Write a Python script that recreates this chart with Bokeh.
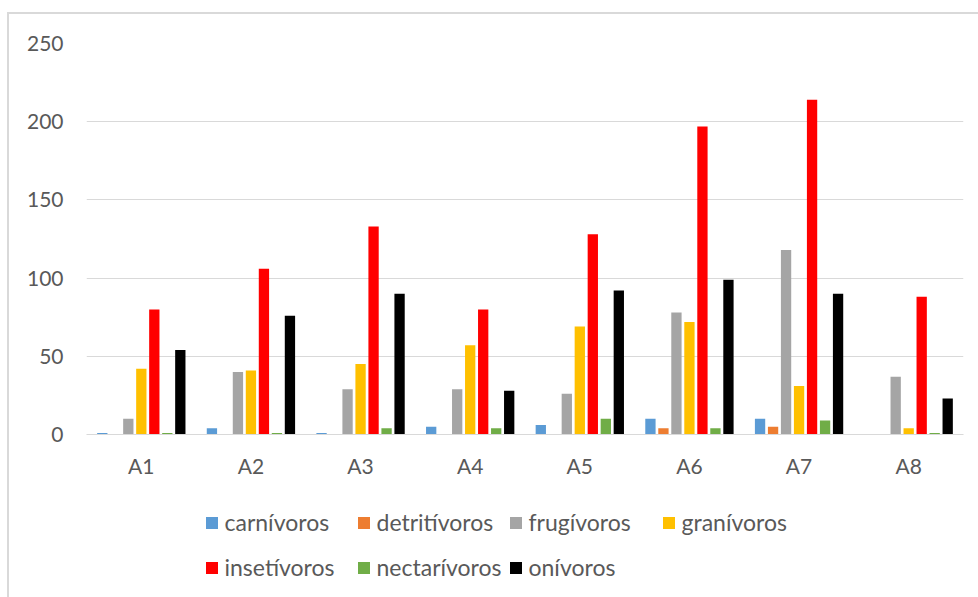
import numpy as np
from bokeh.plotting import figure
from bokeh.layouts import column
from bokeh.models import (ColumnDataSource, FactorRange, Range1d, FixedTicker,
                          Legend, LegendItem)
from bokeh.transform import dodge
from bokeh.embed import file_html
from bokeh.resources import INLINE

categories = ["A1", "A2", "A3", "A4", "A5", "A6", "A7", "A8"]
series_names = ["carnívoros", "detritívoros", "frugívoros", "granívoros",
                "insetívoros", "nectarívoros", "onívoros"]
carnivoros = [1, 4, 1, 5, 6, 10, 10, 0]
detritivoros = [0, 0, 0, 0, 0, 4, 5, 0]
frugivoros = [10, 40, 29, 29, 26, 78, 118, 37]
granivoros = [42, 41, 45, 57, 69, 72, 31, 4]
insetivoros = [80, 106, 133, 80, 128, 197, 214, 88]
nectarivoros = [1, 1, 4, 4, 10, 4, 9, 1]
onivoros = [54, 76, 90, 28, 92, 99, 90, 23]
y_ticks = [0, 50, 100, 150, 200, 250]

colors = ["#5B9BD5", "#ED7D31", "#A5A5A5", "#FFC000", "#FF0000", "#70AD47", "#000000"]
values = [carnivoros, detritivoros, frugivoros, granivoros, insetivoros, nectarivoros, onivoros]
keys = ["s%d" % i for i in range(7)]

data = {"cat": categories}
for k, v in zip(keys, values):
    data[k] = v
source = ColumnDataSource(data)

FONT = "Lato"
TXT = "#595959"

# ---- main chart (canvas starts at window (9, 14) because of the column's CSS margin + border)
p = figure(x_range=FactorRange(*categories, range_padding=0),
           y_range=Range1d(0, 250),
           width=969, height=476, output_backend="svg", toolbar_location=None,
           min_border_left=77, min_border_right=15, min_border_top=29,
           min_border_bottom=56)
p.outline_line_color = None
p.background_fill_color = "white"
p.border_fill_color = "white"

slot = 0.1186
bw = 0.094
for i, (k, c) in enumerate(zip(keys, colors)):
    p.vbar(x=dodge("cat", (i - 3) * slot, range=p.x_range), top=k, width=bw,
           source=source, fill_color=c, line_color=None)

p.yaxis.ticker = FixedTicker(ticks=y_ticks)
p.yaxis.axis_line_color = None
p.yaxis.major_tick_line_color = None
p.yaxis.minor_tick_line_color = None
p.yaxis.major_label_standoff = 17
p.yaxis.major_label_text_font = FONT
p.yaxis.major_label_text_font_size = "21px"
p.yaxis.major_label_text_color = TXT

p.xaxis.axis_line_color = "#D9D9D9"
p.xaxis.axis_line_width = 1
p.xaxis.major_tick_line_color = None
p.xaxis.minor_tick_line_color = None
p.xaxis.major_label_standoff = 12
p.xaxis.major_label_text_font = FONT
p.xaxis.major_label_text_font_size = "21px"
p.xaxis.major_label_text_color = TXT

p.xgrid.grid_line_color = None
p.ygrid.ticker = FixedTicker(ticks=y_ticks)
p.ygrid.grid_line_color = "#D9D9D9"
p.ygrid.grid_line_width = 1

# ---- legend strip; its frame is aligned with the chart frame (window x 86..963, y 490..597)
lf = figure(width=969, height=107, output_backend="svg", toolbar_location=None,
            x_axis_type=None, y_axis_type=None,
            x_range=Range1d(0, 1), y_range=Range1d(0, 1),
            min_border_left=0, min_border_right=0, min_border_top=0,
            min_border_bottom=0)
lf.outline_line_color = None
lf.xgrid.visible = False
lf.ygrid.visible = False
lf.background_fill_color = "white"
lf.border_fill_color = "white"

# swatch-only renderers: one undefined (NaN) row, so nothing is drawn but the legend swatch
swatch_src = ColumnDataSource(dict(x=np.array([np.nan]), top=np.array([np.nan])))
leg_renderers = [lf.vbar(x="x", top="top", width=0.1, source=swatch_src,
                         fill_color=c, line_color=None) for c in colors]

col_x = [117.5, 269.5, 421.5, 574.5]
row_y = [61, 16]
leg_pos = [(col_x[0], row_y[0]), (col_x[1], row_y[0]), (col_x[2], row_y[0]), (col_x[3], row_y[0]),
           (col_x[0], row_y[1]), (col_x[1], row_y[1]), (col_x[2], row_y[1])]
for name, r, loc in zip(series_names, leg_renderers, leg_pos):
    lg = Legend(items=[LegendItem(label=name, renderers=[r])], location=loc,
                padding=0, margin=0, border_line_color=None,
                background_fill_alpha=0, glyph_width=15, glyph_height=15,
                label_standoff=6, label_text_font=FONT,
                label_text_font_size="23px", label_text_color=TXT,
                label_height=15)
    lf.add_layout(lg, "center")

layout = column(p, lf, spacing=0,
                styles={"margin-left": "7px", "margin-top": "12px",
                        "border-left": "2px solid #D9D9D9",
                        "border-top": "2px solid #D9D9D9"})

open("out.html", "w").write(file_html(layout, INLINE))
